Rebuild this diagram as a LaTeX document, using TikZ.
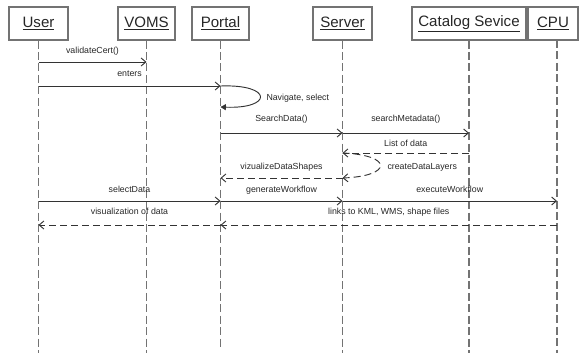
\documentclass[tikz,border=0pt]{standalone}
\usepackage{fontspec}
\setmainfont{Liberation Sans}
\usetikzlibrary{arrows.meta}

\tikzset{every picture/.style={line width=0.75pt}}
\tikzset{
  headbox/.style={draw=black!55, line width=0.8pt, minimum height=24.75pt, inner sep=0pt, text=black!85, font=\fontsize{11.3}{14}\selectfont},
  lifeline/.style={draw=black!55, line width=0.8pt, dash pattern={on 6pt off 2.6pt}},
  msg/.style={draw=black!80, line width=0.7pt, -{Straight Barb[length=3.5pt,width=6pt]}},
  reply/.style={msg, dash pattern={on 5.25pt off 3pt}},
  selfcall/.style={draw=black!80, line width=0.7pt, -{Triangle[length=4pt,width=4.5pt]}},
  lbl/.style={inner sep=0.75pt, text height=5pt, text depth=1.5pt, font=\fontsize{6.6}{8}\selectfont, text=black!85},
}

\begin{document}
\begin{tikzpicture}[x=0.75pt,y=0.75pt,yscale=-1,xscale=1]
    \useasboundingbox (0,0) rectangle (579,353); %picture is 579 by 353
    % Text Node
    \node [headbox, minimum width=44.25pt] (user) at (38.5,23.5) {\underline{User}};
    % Text Node
    \node [headbox, minimum width=42.75pt] (voms) at (146.5,23.5) {\underline{VOMS}};
    % Text Node
    \node [headbox, minimum width=42.75pt] (portal) at (220.5,23.5) {\underline{Portal}};
    % Text Node
    \node [headbox, minimum width=44.25pt] (server) at (342.5,23.5) {\underline{Server}};
    % Text Node
    \node [headbox, minimum width=85.5pt] (catalog) at (469,23.5) {\underline{Catalog Sevice}};
    % Text Node
    \node [headbox, minimum width=37.5pt] (cpu) at (553,23.5) {\underline{CPU}};
    \coordinate (cpuTop) at (557,40);
    % Lifelines
    \draw [lifeline] (user.south) -- (user |- 0,353) ;
    \draw [lifeline] (voms.south) -- (voms |- 0,353) ;
    \draw [lifeline] (portal.south) -- (portal |- 0,347) ;
    \draw [lifeline] (server.south) -- (server |- 0,353) ;
    \draw [lifeline] (catalog.south) -- (catalog |- 0,353) ;
    \draw [lifeline] (cpuTop) -- (cpuTop |- 0,353) ;
    % Connection
    \draw [msg] (user |- 0,62) -- (voms |- 0,62) node [lbl, midway, above=3.5pt] (l1) {validateCert()};
    % Connection
    \draw [msg] (user |- 0,86) -- (portal |- 0,86) node [lbl, midway, above=4.5pt] (l2) {enters};
    % Connection
    \draw [selfcall] (portal |- 0,86) .. controls (273,84) and (273,109) .. (portal |- 0,107) ;
    \node [lbl, anchor=west] (l3) at (265,98) {Navigate, select};
    % Connection
    \draw [msg] (portal |- 0,133) -- (server |- 0,133) node [lbl, midway, above=5.75pt] (l4) {SearchData()};
    % Connection
    \draw [msg] (server |- 0,133) -- (catalog |- 0,133) node [lbl, midway, above=5.75pt] (l5) {searchMetadata()};
    % Connection
    \draw [reply] (catalog |- 0,153) -- (server |- 0,153) node [lbl, midway, above=2.5pt] (l6) {List of data};
    % Connection
    \draw [reply] (server |- 0,153) .. controls (393,155) and (393,176) .. (server |- 0,178) ;
    \node [lbl, anchor=west] (l7) at (386,167) {createDataLayers};
    % Connection
    \draw [reply] (server |- 0,178) -- (portal |- 0,178) node [lbl, midway, above=3.5pt] (l8) {vizualizeDataShapes};
    % Connection
    \draw [msg] (user |- 0,201) -- (portal |- 0,201) node [lbl, midway, above=3.5pt] (l9) {selectData};
    % Connection
    \draw [msg] (portal |- 0,201) -- (server |- 0,201) node [lbl, midway, above=3.5pt] (l10) {generateWorkflow};
    % Connection
    \draw [msg] (server |- 0,201) -- (cpuTop |- 0,201) node [lbl, midway, above=3.5pt] (l11) {executeWorkflow};
    % Connection
    \draw [reply] (portal |- 0,225) -- (user |- 0,225) node [lbl, midway, above=5pt] (l12) {visualization of data};
    % Connection
    \draw [reply] (cpuTop |- 0,225) -- (portal |- 0,225) node [lbl, pos=0.5, above=5pt] (l13) {links to KML, WMS, shape files};

\end{tikzpicture}
\end{document}
